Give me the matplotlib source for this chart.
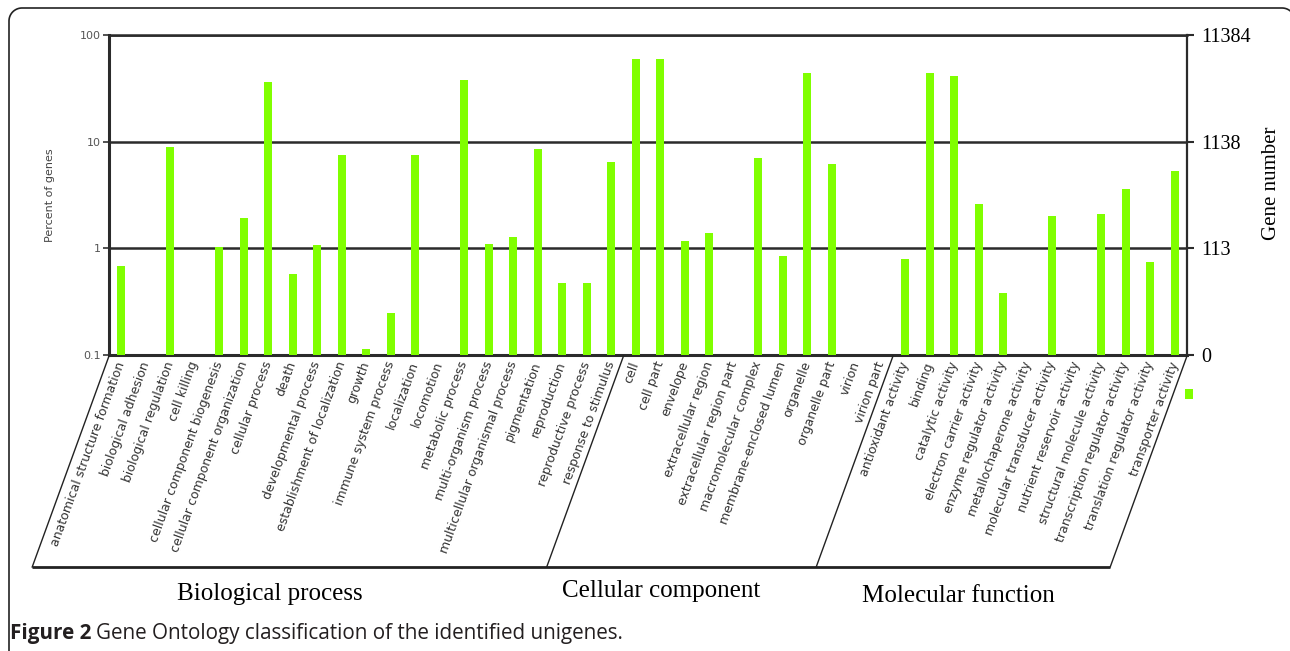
import numpy as np
import matplotlib
matplotlib.use("Agg")
import matplotlib.pyplot as plt
from matplotlib.ticker import FixedLocator, NullLocator

# ---------------- data ----------------
bp_terms = ["anatomical structure formation", "biological adhesion", "biological regulation",
            "cell killing", "cellular component biogenesis", "cellular component organization",
            "cellular process", "death", "developmental process",
            "establishment of localization", "growth", "immune system process",
            "localization", "locomotion", "metabolic process", "multi-organism process",
            "multicellular organismal process", "pigmentation", "reproduction",
            "reproductive process", "response to stimulus"]
bp_pct = [0.69, 0, 9.0, 0, 1.03, 1.94, 36, 0.58, 1.08, 7.55, 0.113, 0.25,
          7.55, 0, 38, 1.09, 1.29, 8.6, 0.47, 0.47, 6.4]

cc_terms = ["cell", "cell part", "envelope", "extracellular region",
            "extracellular region part", "macromolecular complex",
            "membrane-enclosed lumen", "organelle", "organelle part", "virion", "virion part"]
cc_pct = [59, 59, 1.16, 1.39, 0, 7.1, 0.85, 44, 6.2, 0, 0]

mf_terms = ["antioxidant activity", "binding", "catalytic activity",
            "electron carrier activity", "enzyme regulator activity",
            "metallochaperone activity", "molecular transducer activity",
            "nutrient reservoir activity", "structural molecule activity",
            "transcription regulator activity", "translation regulator activity",
            "transporter activity"]
mf_pct = [0.80, 44, 41, 2.6, 0.38, 0, 2.01, 0, 2.08, 3.57, 0.75, 5.35]

group_names = ["Biological process", "Cellular component", "Molecular function"]
left_ticks = [0.1, 1, 10, 100]
left_ticklabels = ["0.1", "1", "10", "100"]
right_ticklabels = ["0", "113", "1138", "11384"]

terms = bp_terms + cc_terms + mf_terms
pct = bp_pct + cc_pct + mf_pct
group_sizes = [len(bp_terms), len(cc_terms), len(mf_terms)]

# ---------------- figure ----------------
W, H = 1290, 651
fig = plt.figure(figsize=(W / 100, H / 100), dpi=100)
fig.patch.set_facecolor("white")

def px_rect(l, t, r, b):
    return [l / W, 1 - b / H, (r - l) / W, (b - t) / H]

AX_L, AX_T, AX_R, AX_B = 109, 35, 1187, 355
ax = fig.add_axes(px_rect(AX_L, AX_T, AX_R, AX_B))
n = len(terms)
ax.set_yscale("log")
ax.set_ylim(0.1, 100)
ax.set_xlim(-0.5, n - 0.5)
ax.set_axisbelow(True)

idx = [i for i, v in enumerate(pct) if v > 0]
vals = np.array([pct[i] for i in idx])
bars = ax.bar(idx, vals - 0.1, bottom=0.1, width=0.34, color="#80ff00",
              edgecolor="none", zorder=3)

ax.yaxis.set_major_locator(FixedLocator(left_ticks))
ax.yaxis.set_minor_locator(NullLocator())
ax.set_yticklabels(left_ticklabels, fontsize=8, color="#555555")
ax.tick_params(axis="y", length=4, width=1.2, pad=2, color="#333333")
ax.yaxis.grid(True, which="major", color="#2b2b2b", linewidth=1.8)
ax.set_ylabel("Percent of genes", fontsize=8, color="#444444")
ax.yaxis.set_label_coords((55 - AX_L) / (AX_R - AX_L), 0.5)

ax.set_xticks(range(n))
ax.set_xticklabels(terms, rotation=70, ha="right", va="center",
                   rotation_mode="anchor", fontsize=9, color="#333333",
                   family="DejaVu Sans")
ax.tick_params(axis="x", length=0, pad=5)

for s, lw in (("left", 2.2), ("bottom", 2.2), ("top", 1.8), ("right", 1.6)):
    ax.spines[s].set_color("#2b2b2b")
    ax.spines[s].set_linewidth(lw)

ax2 = ax.twinx()
ax2.set_yscale("log")
ax2.set_ylim(0.1, 100)
ax2.yaxis.set_major_locator(FixedLocator(left_ticks))
ax2.yaxis.set_minor_locator(NullLocator())
ax2.set_yticklabels(right_ticklabels, fontsize=14.5, family="Liberation Serif",
                    color="black")
ax2.tick_params(axis="y", length=5, width=1.5, pad=5, color="#2b2b2b")
ax2.set_ylabel("Gene number", fontsize=15, family="Liberation Serif", color="black")
ax2.yaxis.set_label_coords(1 + (1262 - AX_R) / (AX_R - AX_L), (AX_B - 183) / (AX_B - AX_T))
for s in ax2.spines.values():
    s.set_visible(False)

leg = ax.legend([bars], [""], loc="center", bbox_to_anchor=(1189 / W, 1 - 395 / H),
                bbox_transform=fig.transFigure, frameon=False, handlelength=0.6,
                handleheight=0.8, handletextpad=0, borderpad=0, borderaxespad=0,
                fontsize=10)

# ---------------- overlay (pixel coordinates) ----------------
ov = fig.add_axes([0, 0, 1, 1])
ov.set_xlim(0, W)
ov.set_ylim(H, 0)
ov.axis("off")
ov.patch.set_visible(False)

# page frame: left edge, rounded top-left, top edge, rounded top-right (cut at image edge)
R = 13
fl, ft, fr = 9, 8, 1295
th1 = np.linspace(np.pi, 1.5 * np.pi, 20)
th2 = np.linspace(1.5 * np.pi, 2 * np.pi, 20)
fx = np.concatenate([[fl], fl + R + R * np.cos(th1), fr - R + R * np.cos(th2), [fr]])
fy = np.concatenate([[H + 20], ft + R + R * np.sin(th1), ft + R + R * np.sin(th2), [H + 20]])
ov.plot(fx, fy, color="#222222", lw=1.2, clip_on=False)

slot = (AX_R - AX_L) / n
y_top, y_bot = 356, 567
dx = (y_bot - y_top) / np.tan(np.radians(70))
bounds = np.concatenate([[0], np.cumsum(group_sizes)])
for b in bounds:
    xb = AX_L + b * slot
    ov.plot([xb, xb - dx], [y_top, y_bot], color="#222222", lw=1.0)
ov.plot([AX_L - dx, AX_R - dx], [y_bot, y_bot], color="#222222", lw=2.0,
        solid_capstyle="butt")

group_pos = [(270, 594), (661, 591), (958, 596)]
for name, (gx, gy) in zip(group_names, group_pos):
    ov.text(gx, gy, name, fontsize=18, family="Liberation Serif", ha="center",
            va="center", color="black")

fig.canvas.draw()
r = fig.canvas.get_renderer()
t1 = ov.text(10, 634, "Figure 2", fontsize=14.9, family="Open Sans", weight="bold",
             ha="left", va="center", color="#231f20")
bb = t1.get_window_extent(renderer=r)
x2 = bb.x1 + 5
ov.text(x2, 634, "Gene Ontology classification of the identified unigenes.",
        fontsize=14.9, family="Open Sans", ha="left", va="center", color="#231f20")

fig.savefig("out.png", dpi=100, facecolor="white")
